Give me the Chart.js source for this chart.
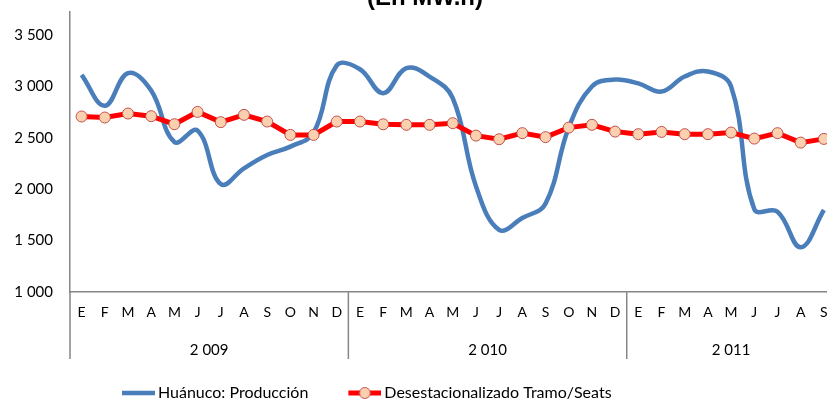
<!DOCTYPE html>
<html><head><meta charset="utf-8">
<script src="https://cdn.jsdelivr.net/npm/chart.js@4/dist/chart.umd.min.js"></script>
<style>
html,body{margin:0;padding:0;overflow:hidden;background:#fff;width:827px;height:402px}
#wrap{position:relative;width:842px;height:402px}
</style></head>
<body><div id="wrap"><canvas id="c" width="842" height="402"></canvas></div>
<script>
const titleText = '(En MW.h)';
const monthLetters = ['E','F','M','A','M','J','J','A','S','O','N','D'];
const years = ['2 009','2 010','2 011'];
const monthsPerYear = [12, 12, 9];
const categories = [].concat(...monthsPerYear.map(n => monthLetters.slice(0, n)));
const yTicks = [1000, 1500, 2000, 2500, 3000, 3500];
const produccion = [
  3114, 2812, 3130, 2960, 2460, 2571, 2050, 2204, 2334, 2415, 2550, 3205,
  3168, 2935, 3179, 3097, 2887, 2030, 1605, 1720, 1860, 2600, 3000, 3068,
  3030, 2951, 3097, 3146, 3000, 1805, 1782, 1435, 1798
];
const desestacionalizado = [
  2708, 2698, 2737, 2711, 2633, 2753, 2653, 2724, 2659, 2529, 2529, 2659,
  2659, 2632, 2627, 2627, 2643, 2522, 2487, 2546, 2507, 2600, 2627, 2561,
  2536, 2558, 2536, 2536, 2552, 2493, 2546, 2454, 2490
];
const seriesNames = ['Huánuco: Producción', 'Desestacionalizado Tramo/Seats'];

// group boundaries and centres (in category index units)
const bounds = [0];
monthsPerYear.forEach(n => bounds.push(bounds[bounds.length - 1] + n));
const yearCentres = monthsPerYear.map((n, i) => bounds[i] + n / 2 - 0.5);

const BLUE = '#4A7EBB', RED = '#FF0000', PEACH = '#FBD0AE', MARKER_EDGE = '#C0504D', AXIS = '#868686';
const FONT = 'Lato, "Open Sans", sans-serif';

function makeSample(color, withMarker) {
  const c = document.createElement('canvas');
  c.width = 52; c.height = 14;
  const g = c.getContext('2d');
  g.strokeStyle = color; g.lineWidth = withMarker ? 5 : 4.5;
  g.beginPath(); g.moveTo(19, 7); g.lineTo(52, 7); g.stroke();
  if (withMarker) {
    g.beginPath(); g.arc(35.5, 7, 5.5, 0, Math.PI * 2);
    g.fillStyle = PEACH; g.fill();
    g.lineWidth = 1; g.strokeStyle = MARKER_EDGE; g.stroke();
  }
  return c;
}
const samples = [makeSample(BLUE, false), makeSample(RED, true)];

const fmt = v => String(v).replace(/\B(?=(\d{3})+(?!\d))/g, ' ');

const extras = {
  id: 'extras',
  afterLayout(chart) {
    if (chart.legend) { chart.legend.left = 82; }
  },
  afterDraw(chart) {
    const ctx = chart.ctx;
    const xs = chart.scales.x, x2 = chart.scales.x2;
    ctx.save();
    ctx.strokeStyle = AXIS; ctx.lineWidth = 1.5;
    bounds.forEach(b => {
      const px = x2.getPixelForValue(b - 0.5);
      ctx.beginPath(); ctx.moveTo(px, xs.top); ctx.lineTo(px, x2.bottom); ctx.stroke();
    });
    ctx.font = 'bold 24px "Liberation Sans", Arial, sans-serif';
    ctx.fillStyle = '#000'; ctx.textAlign = 'center'; ctx.textBaseline = 'alphabetic';
    ctx.fillText(titleText, 425, 5);
    ctx.restore();
  }
};

new Chart(document.getElementById('c'), {
  type: 'line',
  data: {
    labels: categories,
    datasets: [
      { label: seriesNames[0], data: produccion, borderColor: BLUE, backgroundColor: BLUE,
        borderWidth: 4.5, pointRadius: 0, tension: 0.4, order: 1 },
      { label: seriesNames[1], data: desestacionalizado, borderColor: RED, backgroundColor: PEACH,
        borderWidth: 5, pointRadius: 5.5, pointBackgroundColor: PEACH, pointBorderColor: MARKER_EDGE,
        pointBorderWidth: 1, tension: 0, order: 0 }
    ]
  },
  options: {
    responsive: false,
    animation: false,
    layout: { padding: { left: 0, right: 3, top: 12, bottom: -9 } },
    plugins: {
      tooltip: { enabled: false },
      title: { display: false },
      legend: {
        position: 'bottom',
        align: 'start',
        labels: {
          usePointStyle: true,
          pointStyleWidth: 42,
          padding: 26,
          color: '#000',
          font: { family: FONT, size: 16 },
          generateLabels: chart => chart.data.datasets.map((ds, i) => ({
            text: ds.label, pointStyle: samples[i], fillStyle: 'transparent',
            strokeStyle: 'transparent', lineWidth: 0, hidden: false, datasetIndex: i, fontColor: '#000'
          }))
        }
      }
    },
    scales: {
      y: {
        min: 1000, max: 3725,
        afterBuildTicks: s => { s.ticks = yTicks.map(v => ({ value: v })); },
        ticks: { color: '#000', font: { family: FONT, size: 15 }, padding: 17, callback: v => fmt(v) },
        grid: { display: true, drawOnChartArea: false, drawTicks: false, color: 'transparent' },
        border: { display: true, color: AXIS, width: 1.5 },
        afterFit: s => { s.width = 70; s.paddingTop = 0; s.paddingBottom = 0; }
      },
      x: {
        type: 'category', offset: true, weight: 0,
        grid: { display: true, drawOnChartArea: false, drawTicks: false, color: 'transparent' },
        border: { display: true, color: AXIS, width: 1.5 },
        ticks: { autoSkip: false, maxRotation: 0, color: '#000', font: { family: FONT, size: 14 }, padding: 12 },
        afterFit: s => { s.height = 30; s.paddingLeft = 0; s.paddingRight = 0; }
      },
      x2: {
        type: 'linear', position: 'bottom', weight: 1,
        min: -0.5, max: categories.length - 0.5,
        afterBuildTicks: s => { s.ticks = yearCentres.map(v => ({ value: v })); },
        grid: { display: false, drawTicks: false }, border: { display: false },
        ticks: { autoSkip: false, maxRotation: 0, color: '#000', font: { family: FONT, size: 15 }, padding: 19,
                 callback: (v, i) => years[i] },
        afterFit: s => { s.height = 37; s.paddingLeft = 0; s.paddingRight = 0; }
      }
    }
  },
  plugins: [extras]
});
</script>
</body></html>
